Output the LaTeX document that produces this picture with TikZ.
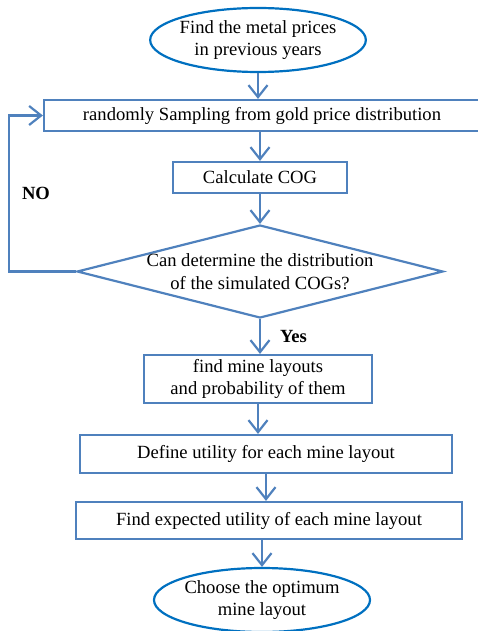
\documentclass[tikz,border=0pt]{standalone}
\usepackage{fontspec}
\setmainfont{Liberation Serif}
\usetikzlibrary{positioning,shapes.geometric,arrows.meta}
\definecolor{boxblue}{RGB}{79,129,189}
\definecolor{ovalblue}{RGB}{0,112,192}
\newcommand{\flowfont}{\fontsize{18.6}{22.5}\selectfont}
\tikzstyle{terminal} = [draw=ovalblue,
						line width=2.2pt,
						ellipse,
						inner xsep=-2pt,
						inner ysep=0pt,
						minimum width=215pt,
						minimum height=64pt,
						align=center]
\tikzstyle{process} = [draw=boxblue,
					   line width=2.2pt,
					   rectangle,
					   inner sep=0pt,
					   align=center]
\tikzstyle{decision} = [draw=boxblue,
						line width=2.2pt,
						diamond,
						aspect=3.94,
						inner sep=-4pt,
						minimum width=366pt,
						minimum height=93pt,
						align=center]
\tikzstyle{flow} = [draw=boxblue,
					line width=2.2pt,
					-{Straight Barb[length=12pt,width=19pt]}]
\tikzstyle{answer} = [font=\flowfont\bfseries,
					  inner sep=1pt]

\begin{document}
\begin{tikzpicture}[x=1pt, y=1pt, node distance=27.8pt, font=\flowfont]
	\useasboundingbox (0,0) rectangle (478,-631);

	\node[terminal] (start) at (258,-40) {Find the metal prices\\in previous years};
	\node[process, below=of start, xshift=4pt, yshift=2pt, minimum width=436pt, minimum height=31pt] (samp) {randomly Sampling from gold price distribution};
	\node[process, below=of samp, xshift=-2pt, yshift=-1pt, minimum width=174pt, minimum height=31pt] (cog) {Calculate COG};
	\node[decision, below=of cog, yshift=-2pt] (dec) {Can determine the distribution\\of the simulated COGs?};

	%%%%%%%%%%%%%%%
	% AFTER "YES" %
	%%%%%%%%%%%%%%%
	\node[process, below=of dec, xshift=-2pt, yshift=-7pt, minimum width=228pt, minimum height=48pt] (lay) {find mine layouts\\and probability of them};
	\node[process, below=of lay, xshift=8pt, yshift=-2pt, minimum width=372pt, minimum height=38pt] (util) {Define utility for each mine layout};
	\node[process, below=of util, xshift=3pt, yshift=1pt, minimum width=386pt, minimum height=37pt] (exp) {Find expected utility of each mine layout};
	\node[terminal, below=of exp, xshift=-7pt, yshift=1pt, minimum width=216pt] (end) {Choose the optimum\\mine layout};

	% arrows
	\draw[flow] (start.south) -- (start.south |- samp.north);
	\draw[flow] (cog.north |- samp.south) -- (cog.north);
	\draw[flow] (cog.south) -- (dec.north);
	\draw[flow] (dec.south) -- node[answer, right=18pt] (yes) {Yes} (dec.south |- lay.north);
	\draw[flow] (lay.south) -- (lay.south |- util.north);
	\draw[flow] (util.south) -- (util.south |- exp.north);
	\draw[flow] (end.north |- exp.south) -- (end.north);

	% loop back
	\coordinate[left=67pt of dec.west] (ret);
	\draw[flow] (dec.west) -- (ret) |- node[answer, pos=0.25, right=11pt] (no) {NO} (samp.west);

\end{tikzpicture}
\end{document}
